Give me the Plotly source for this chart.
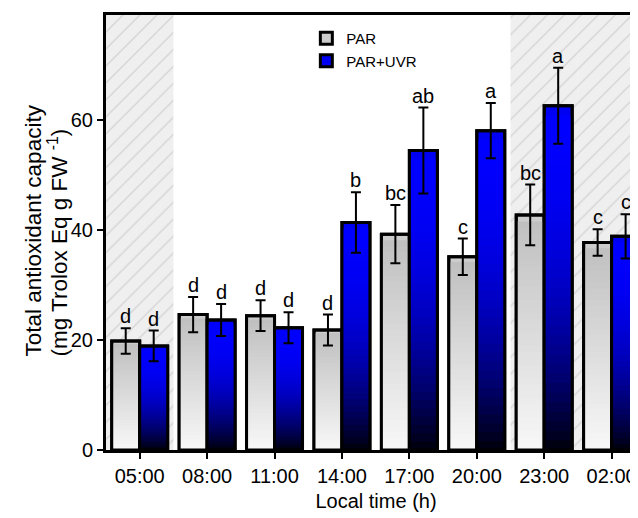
import plotly.graph_objects as go

# ---------------- data ----------------
times = ["05:00", "08:00", "11:00", "14:00", "17:00", "20:00", "23:00", "02:00"]
night = [1, 0, 0, 0, 0, 0, 1, 1]  # dark (hatched) periods

par = [19.8, 24.6, 24.4, 21.8, 39.2, 35.1, 42.7, 37.7]
par_err = [2.3, 3.2, 2.8, 2.8, 5.3, 3.3, 5.5, 2.4]
par_letters = ["d", "d", "d", "d", "bc", "c", "bc", "c"]

uvr = [18.9, 23.6, 22.2, 41.3, 54.4, 58.0, 62.5, 38.8]
uvr_err = [2.8, 2.9, 2.8, 5.5, 7.8, 5.0, 6.9, 4.0]
uvr_letters = ["d", "d", "d", "b", "ab", "a", "a", "c"]

y_max = 79
y_ticks = [0, 20, 40, 60]

y_title_1 = "Total antioxidant capacity"
y_title_2 = "(mg Trolox Eq g FW <sup>-1</sup>)"
x_title = "Local time (h)"

# ---------------- style ----------------
FONT = "Arial, Liberation Sans, sans-serif"
BW = 0.415          # width of one bar (category units)
NLAYERS = 36        # layers used to emulate vertical gradient


def lerp(c1, c2, t):
    return tuple(int(round(a + (b - a) * t)) for a, b in zip(c1, c2))


def par_color(t):  # t = 0 at top of bar, 1 at bottom
    r, g, b = lerp((190, 190, 190), (248, 248, 248), t)
    return f"rgb({r},{g},{b})"


def uvr_color(t):
    k = 1 - t ** 2.2
    return f"rgb(0,0,{int(round(12 + 243 * k))})"


fig = go.Figure()

# hatched night background
night_x = [t for t, n in zip(times, night) if n]
fig.add_trace(go.Bar(
    x=night_x, y=[y_max] * len(night_x), width=1.0, offset=-0.5,
    marker=dict(color="#efefef", line=dict(width=0),
                pattern=dict(shape="/", fgcolor="#bdbdbd", bgcolor="#efefef",
                             size=12, solidity=0.12)),
    showlegend=False, hoverinfo="skip"))

series = [
    ("PAR", par, par_err, par_letters, -BW, par_color),
    ("PAR+UVR", uvr, uvr_err, uvr_letters, 0.0, uvr_color),
]

for name, vals, errs, letters, off, cfun in series:
    # gradient layers (largest first so smaller ones paint the lower parts)
    for k in range(NLAYERS):
        frac = 1 - k / NLAYERS
        t = (k + 0.5) / NLAYERS
        fig.add_trace(go.Bar(
            x=times, y=[v * frac for v in vals], width=BW, offset=off,
            marker=dict(color=cfun(t) if k else cfun(0.25),
                        line=dict(width=3 if k == 0 else 0, color="black")),
            name=name, showlegend=(k == 0), legendgroup=name,
            hoverinfo="skip"))
    # outline + error bars on top
    fig.add_trace(go.Bar(
        x=times, y=vals, width=BW, offset=off,
        marker=dict(color="rgba(0,0,0,0)", line=dict(width=3, color="black")),
        error_y=dict(type="data", array=errs, visible=True, color="black",
                     thickness=2, width=5),
        showlegend=False, legendgroup=name, hoverinfo="skip"))
    # significance letters
    for i, (v, e, lab) in enumerate(zip(vals, errs, letters)):
        fig.add_annotation(x=i + off + BW / 2, y=v + e, xref="x", yref="y",
                           text=lab, showarrow=False, yanchor="bottom",
                           yshift=-1, font=dict(size=20, color="black", family=FONT))

# y-axis title (two rotated lines)
fig.add_annotation(x=0, y=0.5, xref="paper", yref="paper", text=y_title_1,
                   textangle=-90, showarrow=False, xanchor="center", yanchor="middle",
                   xshift=-73, yshift=2, font=dict(size=22.5, family=FONT, color="black"))
fig.add_annotation(x=0, y=0.5, xref="paper", yref="paper", text=y_title_2,
                   textangle=-90, showarrow=False, xanchor="center", yanchor="middle",
                   xshift=-49, yshift=-10, font=dict(size=22.5, family=FONT, color="black"))

fig.update_layout(
    width=638, height=518,
    margin=dict(l=98, r=0, t=7, b=76),
    barmode="overlay",
    plot_bgcolor="white", paper_bgcolor="white",
    font=dict(family=FONT, size=20, color="black"),
    showlegend=True,
    legend=dict(x=0.371, y=0.984, xanchor="left", yanchor="top",
                bgcolor="rgba(0,0,0,0)", font=dict(size=15, family=FONT),
                tracegroupgap=0, itemwidth=30),
)

fig.update_xaxes(
    type="category", categoryorder="array", categoryarray=times,
    range=[-0.5, 7.51], automargin=False,
    showline=True, linewidth=3, linecolor="black", mirror=True,
    ticks="outside", ticklen=6, tickwidth=2, tickcolor="black",
    tickfont=dict(size=20, family=FONT),
    title=dict(text=x_title, font=dict(size=20, family=FONT), standoff=8),
    showgrid=False, zeroline=False)

fig.update_yaxes(
    range=[0, y_max], tickvals=y_ticks, automargin=False,
    showline=True, linewidth=3, linecolor="black", mirror=False,
    ticks="outside", ticklen=6, tickwidth=2, tickcolor="black",
    tickfont=dict(size=20, family=FONT),
    showgrid=False, zeroline=False)

fig.write_html("out.html")
